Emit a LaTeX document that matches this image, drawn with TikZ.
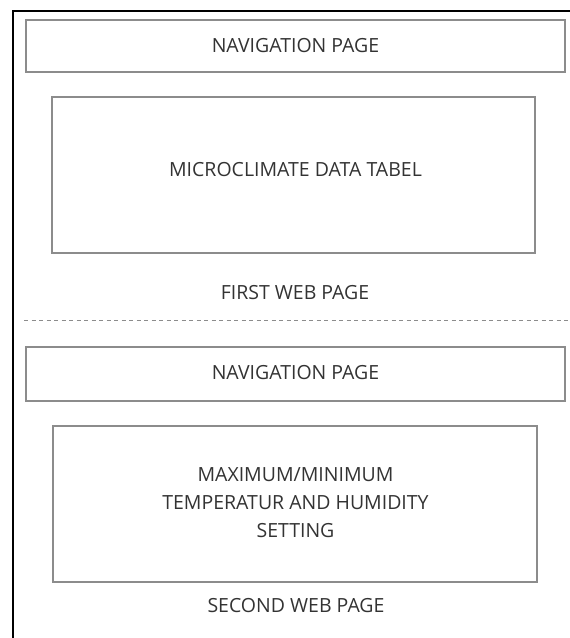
\documentclass[tikz,border=0pt]{standalone}
\usepackage{fontspec}
\setmainfont{Open Sans}
\begin{document}
\begin{tikzpicture}[x=1pt,y=-1pt,
  panel/.style={draw=black!45,line width=1.3pt},
  lbl/.style={text=black!80,font=\fontsize{19.5}{28}\selectfont,align=center,inner sep=0pt},
  frame/.style={draw=black,line width=2pt},
  divider/.style={draw=black!45,line width=0.9pt,dash pattern=on 4pt off 3.5pt}]
  \useasboundingbox (0,0) rectangle (570,638);
  % outer page frame (open on the right and bottom)
  \draw[frame] (12.5,640) -- (12.5,10.5) -- (572,10.5);
  % first web page
  \draw[panel] (26,20) rectangle (565,72);
  \node[lbl] (nav1) at (295.5,46) {NAVIGATION PAGE};
  \draw[panel] (52,97) rectangle (535,253);
  \node[lbl] (data) at (295.5,170) {MICROCLIMATE DATA TABEL};
  \node[lbl] (first) at (295,293) {FIRST WEB PAGE};
  % separator between the two pages
  \coordinate (dl) at (24,320);
  \coordinate (dr) at (570,320);
  \draw[divider] (dl) -- (dr);
  % second web page
  \draw[panel] (26,347) rectangle (565,401);
  \node[lbl] (nav2) at (295.5,373) {NAVIGATION PAGE};
  \draw[panel] (53,426) rectangle (537,582);
  \node[lbl] (setting) at (295.5,503) {MAXIMUM/MINIMUM\\TEMPERATUR AND HUMIDITY\\SETTING};
  \node[lbl] (second) at (296,606) {SECOND WEB PAGE};
\end{tikzpicture}
\end{document}
